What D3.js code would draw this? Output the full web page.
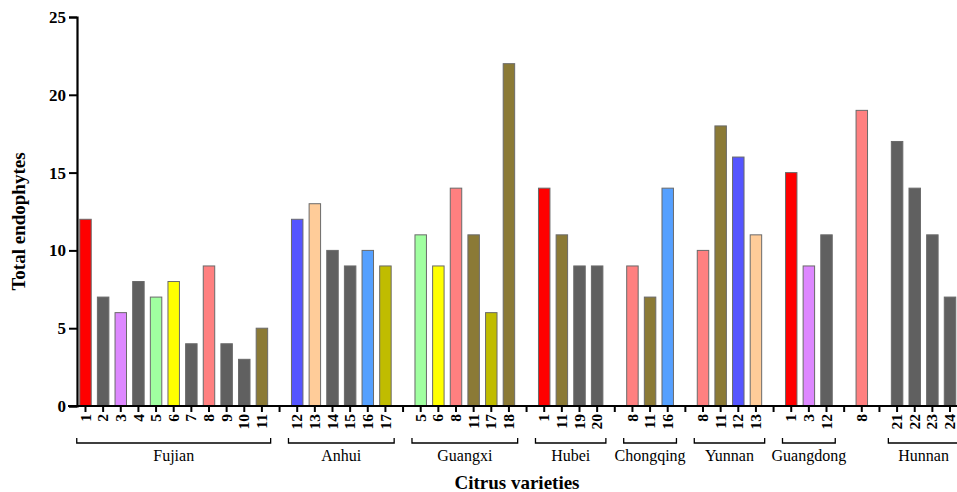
<!DOCTYPE html>
<html>
<head>
<meta charset="utf-8">
<script src="https://cdn.jsdelivr.net/npm/d3@7"></script>
<style>
  html, body { margin: 0; padding: 0; background: #fff; }
  svg { display: block; }
</style>
</head>
<body>
<svg id="chart" width="957" height="492"></svg>
<script>
// ---------- data ----------
const groups = ["Fujian", "Anhui", "Guangxi", "Hubei", "Chongqing", "Yunnan", "Guangdong", "", "Hunnan"];
const varieties = [
  ["1","2","3","4","5","6","7","8","9","10","11"],
  ["12","13","14","15","16","17"],
  ["5","6","8","11","17","18"],
  ["1","11","19","20"],
  ["8","11","16"],
  ["8","11","12","13"],
  ["1","3","12"],
  ["8"],
  ["21","22","23","24"]
];
const values = [
  [12, 7, 6, 8, 7, 8, 4, 9, 4, 3, 5],
  [12, 13, 10, 9, 10, 9],
  [11, 9, 14, 11, 6, 22],
  [14, 11, 9, 9],
  [9, 7, 14],
  [10, 18, 16, 11],
  [15, 9, 11],
  [19],
  [17, 14, 11, 7]
];
const RED = "#ff0000", GRAY = "#606060", VIOLET = "#dd88ff", GREEN = "#a0ffa0",
      YELLOW = "#ffff00", SALMON = "#ff8080", BROWN = "#8b7a36", BLUE = "#5555ff",
      PEACH = "#ffcc99", LBLUE = "#55a0ff", OLIVE = "#c0bc00";
const colors = [
  [RED, GRAY, VIOLET, GRAY, GREEN, YELLOW, GRAY, SALMON, GRAY, GRAY, BROWN],
  [BLUE, PEACH, GRAY, GRAY, LBLUE, OLIVE],
  [GREEN, YELLOW, SALMON, BROWN, OLIVE, BROWN],
  [RED, BROWN, GRAY, GRAY],
  [SALMON, BROWN, LBLUE],
  [SALMON, BROWN, BLUE, PEACH],
  [RED, VIOLET, GRAY],
  [SALMON],
  [GRAY, GRAY, GRAY, GRAY]
];
const yTicks = [0, 5, 10, 15, 20, 25];
const yTitle = "Total endophytes";
const xTitle = "Citrus varieties";

// ---------- build slots (one empty slot between groups) ----------
const slots = [];
const groupInfo = [];
groups.forEach((g, gi) => {
  if (gi > 0) slots.push({ key: "s" + slots.length, label: "", value: null });
  const first = slots.length;
  varieties[gi].forEach((v, i) => {
    slots.push({ key: "s" + slots.length, label: v, value: values[gi][i], color: colors[gi][i] });
  });
  groupInfo.push({ name: g, first: slots[first].key, last: slots[slots.length - 1].key });
});

// ---------- layout ----------
const svg = d3.select("#chart");
const x0 = 77, yBase = 406, yTop = 17;
const FONT = "'Liberation Serif', 'Times New Roman', serif";

const x = d3.scaleBand()
  .domain(slots.map(d => d.key))
  .range([x0, 958.5])
  .paddingInner(0.35)
  .paddingOuter(0.156);

const y = d3.scaleLinear().domain([0, 25]).range([yBase, yTop]);

// bars
svg.append("g").selectAll("rect")
  .data(slots.filter(d => d.value !== null))
  .join("rect")
  .attr("x", d => x(d.key))
  .attr("y", d => y(d.value))
  .attr("width", x.bandwidth())
  .attr("height", d => y(0) - y(d.value))
  .attr("fill", d => d.color)
  .attr("stroke", "#6a6a6a")
  .attr("stroke-width", 1);

// y axis
const yAxis = svg.append("g")
  .attr("transform", `translate(${x0},0)`)
  .call(d3.axisLeft(y).tickValues(yTicks).tickSize(8).tickPadding(3).tickFormat(d3.format("d")));
yAxis.select(".domain").attr("stroke", "#000").attr("stroke-width", 2.2);
yAxis.selectAll(".tick line").attr("stroke", "#000").attr("stroke-width", 2);
yAxis.selectAll("text")
  .attr("font-family", FONT).attr("font-weight", "bold").attr("font-size", 17).attr("fill", "#000");

// x axis
const labelMap = new Map(slots.map(d => [d.key, d.label]));
const xAxis = svg.append("g")
  .attr("transform", `translate(0,${yBase})`)
  .call(d3.axisBottom(x).tickSize(6).tickSizeOuter(0).tickFormat(k => labelMap.get(k)));
xAxis.select(".domain").attr("stroke", "#000").attr("stroke-width", 2.2)
  .attr("d", `M${x0 - 9},0H958`);
xAxis.selectAll(".tick line").attr("stroke", "#000").attr("stroke-width", 2);
xAxis.selectAll("text")
  .attr("transform", "rotate(-90)")
  .attr("x", -8).attr("y", 0).attr("dy", "0.33em")
  .attr("text-anchor", "end")
  .attr("font-family", FONT).attr("font-weight", "bold").attr("font-size", 15.5).attr("fill", "#000");

// group brackets
const bY = 443, bPad = 3;
const gb = svg.append("g");
groupInfo.filter(g => g.name !== "").forEach(g => {
  const xa = x(g.first) - bPad, xb = x(g.last) + x.bandwidth() + bPad;
  gb.append("path")
    .attr("d", `M${xa},${bY - 5}V${bY}H${xb}V${bY - 5}`)
    .attr("fill", "none").attr("stroke", "#000").attr("stroke-width", 1.3);
  gb.append("text")
    .attr("x", (xa + xb) / 2).attr("y", bY + 18)
    .attr("text-anchor", "middle")
    .attr("font-family", FONT).attr("font-size", 16).attr("fill", "#000")
    .text(g.name);
});

// axis titles
svg.append("text")
  .attr("transform", `translate(25,${(yBase + yTop) / 2 + 10}) rotate(-90)`)
  .attr("text-anchor", "middle")
  .attr("font-family", FONT).attr("font-weight", "bold").attr("font-size", 19).attr("fill", "#000")
  .text(yTitle);

svg.append("text")
  .attr("x", 517).attr("y", 489)
  .attr("text-anchor", "middle")
  .attr("font-family", FONT).attr("font-weight", "bold").attr("font-size", 19).attr("fill", "#000")
  .text(xTitle);
</script>
</body>
</html>
